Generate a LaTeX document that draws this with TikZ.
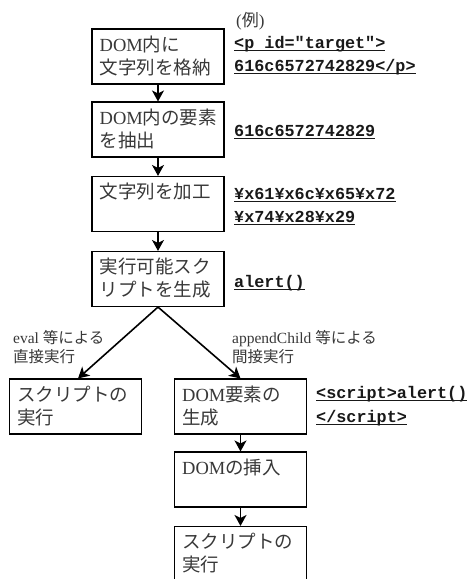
\documentclass[tikz,border=0pt]{standalone}
\usepackage{fontspec}
\setmainfont{Liberation Serif}
\setmonofont{Liberation Mono}
\newfontfamily\jp{Noto Sans CJK JP}
\usetikzlibrary{arrows.meta}
\newsavebox\ulbox
\newcommand\ulc[1]{\sbox\ulbox{#1}\rlap{\rule[-2.6pt]{\wd\ulbox}{1.2pt}}\usebox\ulbox}
\tikzset{
  box/.style={draw, line width=1.1pt, minimum width=132pt, minimum height=55pt, inner sep=0pt},
  txt/.style={anchor=base west, inner sep=0pt, text=black!78, font=\fontsize{18.5}{22}\selectfont},
  small/.style={anchor=base west, inner sep=0pt, text=black!78, font=\fontsize{15.5}{18}\selectfont},
  code/.style={anchor=base west, inner sep=0pt, text=black!90, font=\ttfamily\bfseries\fontsize{16.8}{20}\selectfont},
  arr/.style={line width=1.6pt, -{Stealth[length=11pt,width=12pt,inset=3pt]}}
}
\begin{document}
\begin{tikzpicture}[x=1pt,y=-1pt]
\useasboundingbox (0,0) rectangle (470,579);
% boxes
\node[box] (b1) at (158,56.5) {};
\node[box] (b2) at (158,129.5) {};
\node[box] (b3) at (158,204) {};
\node[box] (b4) at (158,279) {};
\node[box] (l1) at (75.5,406.5) {};
\node[box] (r1) at (240.5,406.5) {};
\node[box] (r2) at (240.5,479.5) {};
\node[box] (r3) at (240.5,554) {};
% box texts
\node[txt] (t1a) at ([xshift=8pt,yshift=-23pt]b1.north west) {DOM{\jp 内に}};
\node[txt] (t1b) at ([xshift=8pt,yshift=-46pt]b1.north west) {\jp 文字列を格納};
\node[txt] (t2a) at ([xshift=8pt,yshift=-23pt]b2.north west) {DOM{\jp 内の要素}};
\node[txt] (t2b) at ([xshift=8pt,yshift=-46pt]b2.north west) {\jp を抽出};
\node[txt] (t3a) at ([xshift=8pt,yshift=-23pt]b3.north west) {\jp 文字列を加工};
\node[txt] (t4a) at ([xshift=8pt,yshift=-23pt]b4.north west) {\jp 実行可能スク};
\node[txt] (t4b) at ([xshift=8pt,yshift=-46pt]b4.north west) {\jp リプトを生成};
\node[txt] (tla) at ([xshift=8pt,yshift=-23pt]l1.north west) {\jp スクリプトの};
\node[txt] (tlb) at ([xshift=8pt,yshift=-46pt]l1.north west) {\jp 実行};
\node[txt] (tr1a) at ([xshift=8pt,yshift=-23pt]r1.north west) {DOM{\jp 要素の}};
\node[txt] (tr1b) at ([xshift=8pt,yshift=-46pt]r1.north west) {\jp 生成};
\node[txt] (tr2a) at ([xshift=8pt,yshift=-23pt]r2.north west) {DOM{\jp の挿入}};
\node[txt] (tr3a) at ([xshift=8pt,yshift=-23pt]r3.north west) {\jp スクリプトの};
\node[txt] (tr3b) at ([xshift=8pt,yshift=-46pt]r3.north west) {\jp 実行};
% example labels
\node[anchor=base west, inner sep=0pt, text=black!78, font=\fontsize{17}{20}\selectfont] (ex) at (236,26) {({\jp 例})};
\node[code] (c1a) at (234,48.5) {\ulc{<p id="target">}};
\node[code] (c1b) at (234,71.5) {\ulc{616c6572742829</p>}};
\node[code] (c2) at (234,136.5) {\ulc{616c6572742829}};
\node[code] (c3a) at (234,199.5) {\ulc{¥x61¥x6c¥x65¥x72}};
\node[code] (c3b) at (234,222.5) {\ulc{¥x74¥x28¥x29}};
\node[code] (c4) at (234,287.5) {\ulc{alert()}};
\node[code] (c5a) at (316,398.5) {\ulc{<script>alert()}};
\node[code] (c5b) at (316,422.5) {\ulc{</script>}};
% branch labels
\node[small] (e1) at (13,343) {eval {\jp 等による}};
\node[small] (e2) at (13,362) {\jp 直接実行};
\node[small] (a1) at (232,343) {appendChild {\jp 等による}};
\node[small] (a2) at (232,362) {\jp 間接実行};
% connectors
\draw[arr] (b1.south) -- (b2.north);
\draw[arr] (b2.south) -- (b3.north);
\draw[arr] (b3.south) -- (b4.north);
\draw[arr] (b4.south) -- ([xshift=2.5pt]l1.north);
\draw[arr] (b4.south) -- (r1.north);
\draw[arr] (r1.south) -- (r2.north);
\draw[arr] (r2.south) -- (r3.north);
\end{tikzpicture}
\end{document}
